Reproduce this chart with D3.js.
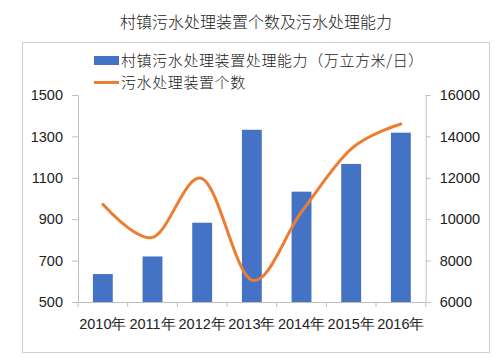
<!DOCTYPE html>
<html>
<head>
<meta charset="utf-8">
<script src="https://cdn.jsdelivr.net/npm/d3@7"></script>
<style>
  body { margin: 0; background: #fff; }
  svg text { font-family: "Liberation Sans", Arial, sans-serif; fill: #222; }
  .cjk { font-family: "Noto Sans CJK SC", sans-serif; font-weight: 300; }
</style>
</head>
<body>
<div id="chart"></div>
<script>
// data
var years = ["2010年", "2011年", "2012年", "2013年", "2014年", "2015年", "2016年"];
var capacity = [635, 720, 883, 1332, 1033, 1167, 1318];        // 万立方米/日, left axis
var units = [10720, 9120, 11960, 7060, 10350, 13400, 14600];   // 个数, right axis
var leftTicks = [500, 700, 900, 1100, 1300, 1500];
var rightTicks = [6000, 8000, 10000, 12000, 14000, 16000];
var titleText = "村镇污水处理装置个数及污水处理能力";
var legendNames = ["村镇污水处理装置处理能力（万立方米/日）", "污水处理装置个数"];

var W = 499, H = 364;
var plot = {left: 78, right: 425.7, top: 95, bottom: 302};

var svg = d3.select("#chart").append("svg")
    .attr("width", W)
    .attr("height", H);

// title
svg.append("text")
    .attr("class", "cjk")
    .attr("x", 256)
    .attr("y", 28)
    .attr("text-anchor", "middle")
    .style("font-size", "16px")
    .text(titleText);

// chart border
svg.append("rect")
    .attr("x", 22.5).attr("y", 42.5)
    .attr("width", 467).attr("height", 310)
    .attr("fill", "none")
    .attr("stroke", "#d0d0d0");

var x = d3.scaleBand().domain(years).range([plot.left, plot.right]).padding(0);
var yL = d3.scaleLinear().domain([500, 1500]).range([plot.bottom, plot.top]);
var yR = d3.scaleLinear().domain([6000, 16000]).range([plot.bottom, plot.top]);

// bars
var barW = x.bandwidth() * 0.4;
svg.append("g").selectAll("rect")
    .data(capacity)
    .enter().append("rect")
    .attr("x", function(d, i){ return x(years[i]) + (x.bandwidth() - barW) / 2; })
    .attr("y", function(d){ return yL(d); })
    .attr("width", barW)
    .attr("height", function(d){ return yL(500) - yL(d); })
    .attr("fill", "#4472c4");

// axes
function styleAxis(g) {
    g.selectAll("path, line").attr("stroke", "#bfbfbf");
    g.selectAll("text").style("font-size", "14.5px").attr("fill", "#222");
}

svg.append("g")
    .attr("transform", "translate(" + plot.left + ",0)")
    .call(d3.axisLeft(yL).tickValues(leftTicks).tickFormat(d3.format("d"))
        .tickSize(6).tickSizeOuter(0).tickPadding(9))
    .call(styleAxis);

svg.append("g")
    .attr("transform", "translate(" + plot.right + ",0)")
    .call(d3.axisRight(yR).tickValues(rightTicks).tickFormat(d3.format("d"))
        .tickSize(5).tickSizeOuter(0).tickPadding(9))
    .call(styleAxis);

svg.append("g")
    .attr("transform", "translate(0," + plot.bottom + ")")
    .call(d3.axisBottom(x).tickSize(0).tickPadding(17))
    .call(styleAxis);

// category boundary ticks
svg.append("g").selectAll("line")
    .data(years.concat(["end"]))
    .enter().append("line")
    .attr("x1", function(d, i){ return plot.left + i * x.step(); })
    .attr("x2", function(d, i){ return plot.left + i * x.step(); })
    .attr("y1", plot.bottom)
    .attr("y2", plot.bottom + 5)
    .attr("stroke", "#bfbfbf");

// smoothed line
var line = d3.line()
    .x(function(d, i){ return x(years[i]) + x.bandwidth() / 2; })
    .y(function(d){ return yR(d); })
    .curve(d3.curveCardinal.tension(0));

svg.append("path")
    .datum(units)
    .attr("d", line)
    .attr("fill", "none")
    .attr("stroke", "#ed7d31")
    .attr("stroke-width", 3)
    .attr("stroke-linecap", "round");

// legend
var lg = svg.append("g");
lg.append("rect")
    .attr("x", 94).attr("y", 56)
    .attr("width", 25).attr("height", 9)
    .attr("fill", "#4472c4");
lg.append("line")
    .attr("x1", 94).attr("x2", 119)
    .attr("y1", 82.5).attr("y2", 82.5)
    .attr("stroke", "#ed7d31")
    .attr("stroke-width", 3);
lg.selectAll("text")
    .data(legendNames)
    .enter().append("text")
    .attr("class", "cjk")
    .attr("x", 121)
    .attr("y", function(d, i){ return 66 + i * 22; })
    .style("font-size", "15px")
    .style("letter-spacing", "0.6px")
    .text(function(d){ return d; });
</script>
</body>
</html>
